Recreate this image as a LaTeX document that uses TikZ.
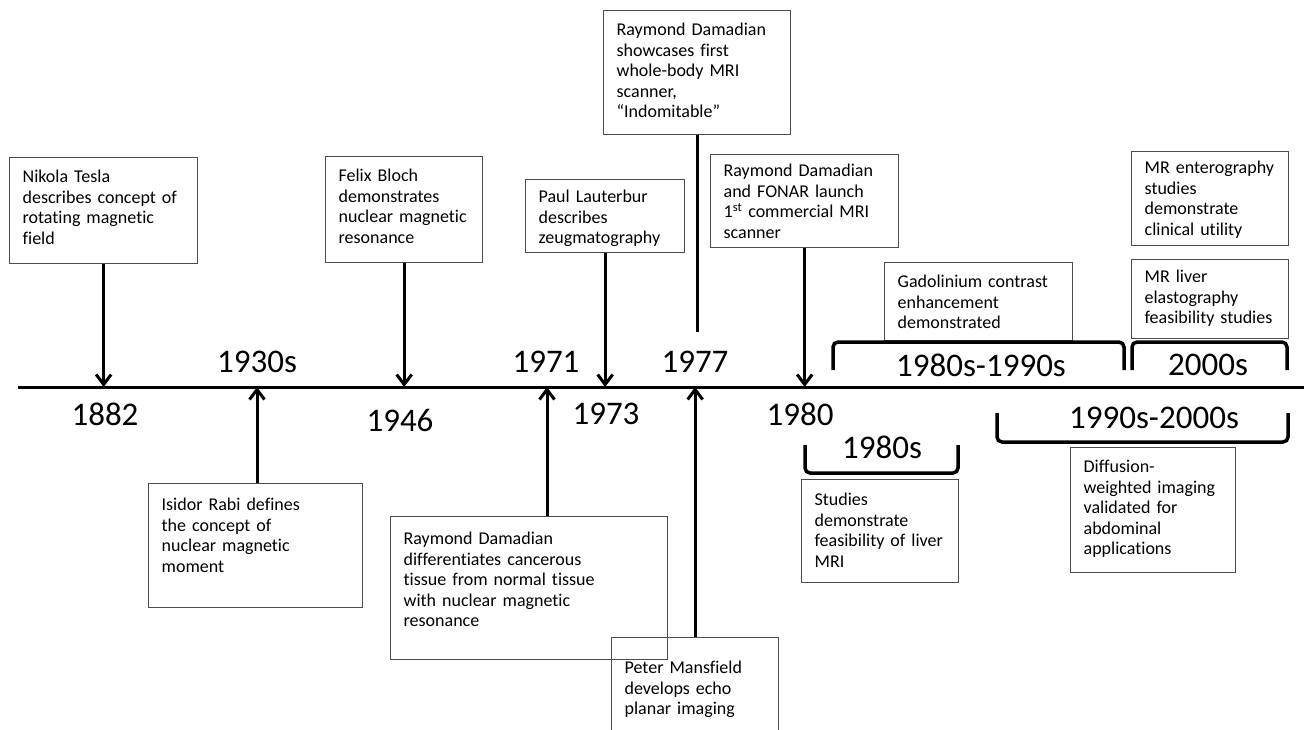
\documentclass[tikz,border=0pt]{standalone}
\usepackage{fontspec}
\setmainfont{Carlito}[Ligatures={TeX,NoCommon}]
\usetikzlibrary{arrows.meta, positioning}
\newcommand{\boxfont}{\fontsize{18}{20.5}\selectfont}
\newcommand{\yearfont}{\fontsize{33}{37}\selectfont}

\begin{document}
\begin{tikzpicture}[x=1pt, y=-1pt,
    event/.style={draw=black!70, line width=1.3pt, anchor=north west,
                  align=left, font=\boxfont, inner xsep=13pt, inner ysep=8pt,
                  text height=17pt},
    yearlabel/.style={font=\yearfont, inner sep=0pt},
    arr/.style={-{Straight Barb[length=10pt, width=15pt]}, line width=3pt},
    brk/.style={line width=3.5pt, rounded corners=5pt}]
  \useasboundingbox (0,0) rectangle (1304,729);
  \clip (0,0) rectangle (1304,729);

  % time axis
  \coordinate (axisL) at (18,387);
  \coordinate (axisR) at (1304,387);
  \draw[line width=3pt] (axisL) -- (axisR);

  % events above the axis
  \node[event, text width=162pt, text depth=73pt] (tesla) at (9,157)
    {Nikola Tesla\\describes concept of\\rotating magnetic\\field};
  \node[event, text width=131pt, text depth=73pt] (bloch) at (325,156)
    {Felix Bloch\\demonstrates\\nuclear magnetic\\resonance};
  \node[event, text width=133pt, text height=15pt, text depth=42pt] (lauterbur) at (525,179)
    {Paul Lauterbur\\describes\\zeugmatography};
  \node[event, text width=161pt, text depth=91pt] (indomitable) at (603,10)
    {Raymond Damadian\\showcases first\\whole-body MRI\\scanner,\\``Indomitable''};
  \node[event, text width=162pt, text height=14pt, text depth=63pt] (fonar) at (710,154)
    {Raymond Damadian\\and FONAR launch\\1\textsuperscript{st} commercial MRI\\scanner};
  \node[event, text width=162pt, text depth=45pt] (gadolinium) at (884,262)
    {Gadolinium contrast\\enhancement\\demonstrated};
  \node[event, text width=131pt, text height=14pt, text depth=64pt] (enterography) at (1131,151)
    {MR enterography\\studies\\demonstrate\\clinical utility};
  \node[event, text width=131pt, text height=15pt, text depth=48pt] (elastography) at (1131,259)
    {MR liver\\elastography\\feasibility studies};

  % events below the axis
  \node[event, text width=188pt, text height=19pt, text depth=89pt] (rabi) at (148,483)
    {Isidor Rabi defines\\the concept of\\nuclear magnetic\\moment};
  \node[event, text width=251pt, text height=20pt, text depth=107pt] (damadian) at (390,516)
    {Raymond Damadian\\differentiates cancerous\\tissue from normal tissue\\with nuclear magnetic\\resonance};
  \node[event, text width=141pt, text height=28pt, text depth=61pt] (mansfield) at (611,637)
    {Peter Mansfield\\develops echo\\planar imaging};
  \node[event, text width=131pt, text height=18pt, text depth=69pt] (liverstudies) at (801,479)
    {Studies\\demonstrate\\feasibility of liver\\MRI};
  \node[event, text width=139pt, text depth=92pt] (diffusion) at (1070,447)
    {Diffusion-\\weighted imaging\\validated for\\abdominal\\applications};

  % years
  \node[yearlabel] (y1882) at (105,414) {1882};
  \node[yearlabel] (y1930) at (257,362) {1930s};
  \node[yearlabel] (y1946) at (400,420) {1946};
  \node[yearlabel] (y1971) at (546,362) {1971};
  \node[yearlabel] (y1973) at (606,414) {1973};
  \node[yearlabel] (y1977) at (695,362) {1977};
  \node[yearlabel] (y1980) at (800,414) {1980};
  \node[yearlabel] (y8090) at (981,365) {1980s-1990s};
  \node[yearlabel] (y2000) at (1208,365) {2000s};
  \node[yearlabel] (y9000) at (1154,418) {1990s-2000s};
  \node[yearlabel] (y1980s) at (882,447) {1980s};

  % arrows to the axis
  \coordinate (t1930) at (257,387);
  \coordinate (t1971) at (547,387);
  \draw[arr] (tesla) -- (tesla |- axisL);
  \draw[arr] (bloch) -- (bloch |- axisL);
  \draw[arr] (lauterbur) -- (lauterbur |- axisL);
  \draw[arr] (fonar) -- (fonar |- axisL);
  \draw[arr] (t1930 |- rabi.north) -- (t1930);
  \draw[arr] (t1971 |- damadian.north) -- (t1971);
  \draw[arr] (mansfield.north) -- (mansfield.north |- axisL);
  \draw[line width=3pt] (indomitable.south) -- ([yshift=19pt]indomitable.south |- y1977.north);

  % brackets
  \draw[brk] (833,370) -- (833,342) -- (1124,342) -- (1124,370);
  \draw[brk] (1132,370) -- (1132,342) -- (1287,342) -- (1287,370);
  \draw[brk] (997,413) -- (997,442) -- (1288,442) -- (1288,413);
  \draw[brk] (805,445) -- (805,473) -- (958,473) -- (958,445);
\end{tikzpicture}
\end{document}
